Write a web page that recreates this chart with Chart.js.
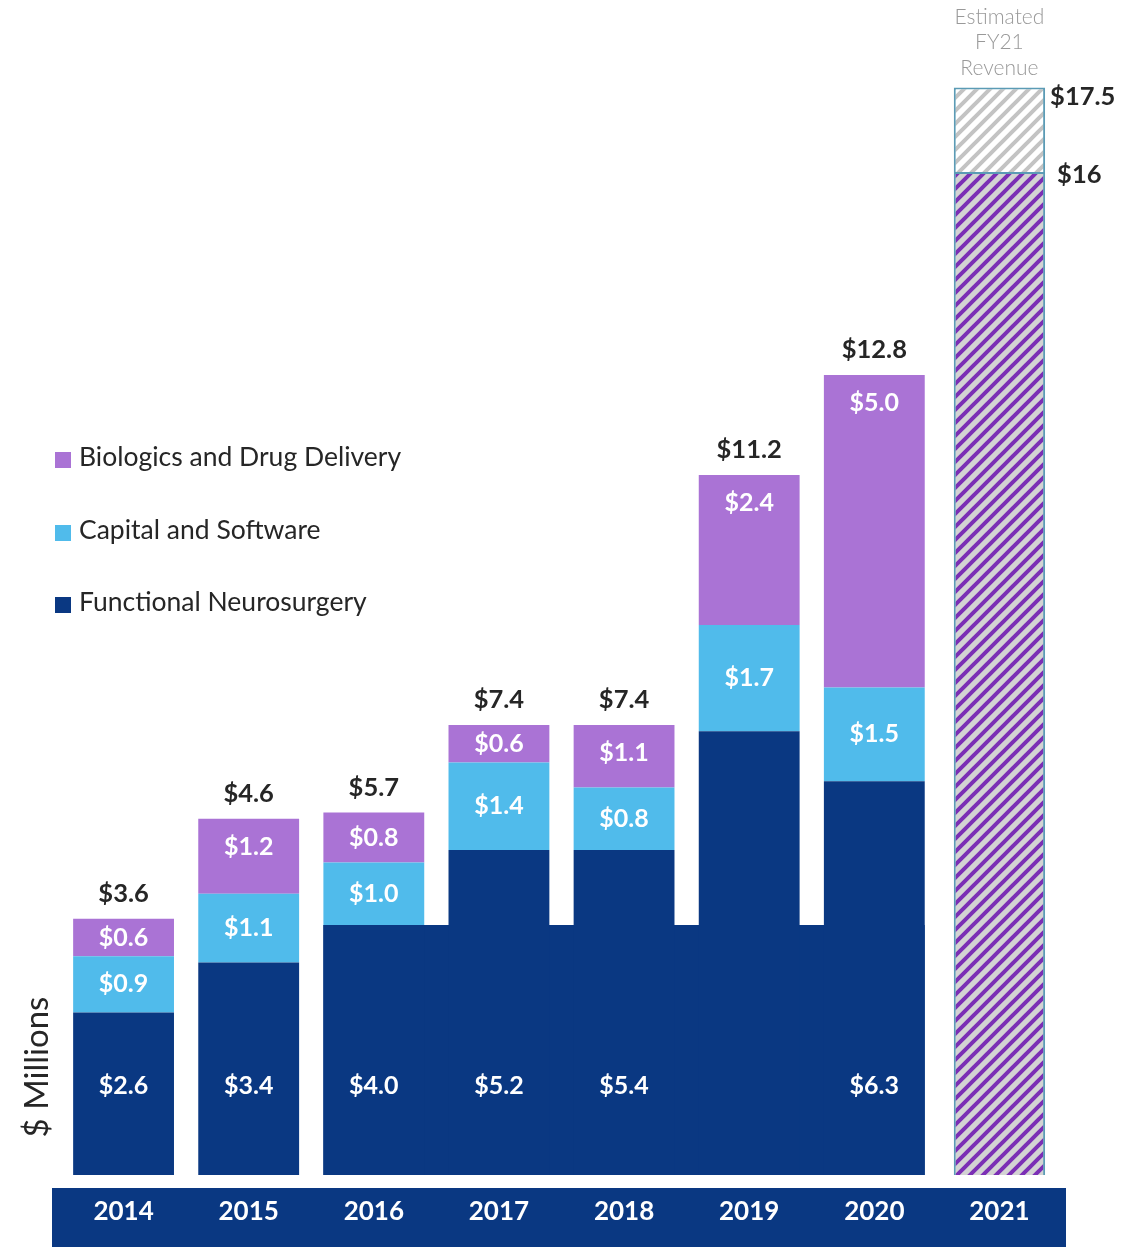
<!DOCTYPE html>
<html>
<head>
<meta charset="utf-8">
<script src="https://cdn.jsdelivr.net/npm/chart.js@4/dist/chart.umd.min.js"></script>
<style>
  html, body { margin: 0; padding: 0; background: #ffffff; }
  canvas { display: block; }
</style>
</head>
<body>
<canvas id="revenueChart" width="1129" height="1247"></canvas>
<script>
// Chart data (bar heights as drawn; printed labels kept separately)
const years = ["2014", "2015", "2016", "2017", "2018", "2019", "2020", "2021"];
const neurosurgery = [2.6, 3.4, 4.0, 5.2, 5.2, 7.1, 6.3, null];
const capitalSoftware = [0.9, 1.1, 1.0, 1.4, 1.0, 1.7, 1.5, null];
const biologics = [0.6, 1.2, 0.8, 0.6, 1.0, 2.4, 5.0, null];
const neuroLabels = ["$2.6", "$3.4", "$4.0", "$5.2", "$5.4", "", "$6.3", ""];
const capitalLabels = ["$0.9", "$1.1", "$1.0", "$1.4", "$0.8", "$1.7", "$1.5", ""];
const biologicsLabels = ["$0.6", "$1.2", "$0.8", "$0.6", "$1.1", "$2.4", "$5.0", ""];
const totalLabels = ["$3.6", "$4.6", "$5.7", "$7.4", "$7.4", "$11.2", "$12.8", ""];
const estimateBase = [null, null, null, null, null, null, null, 16.05];
const estimateUpside = [null, null, null, null, null, null, null, 1.35];
const estimateBaseLabel = "$16";
const estimateTopLabel = "$17.5";
const estimateNote = ["Estimated", "FY21", "Revenue"];
const baseBlock = 4.0; // navy block joining the 2016-2020 bars

const NAVY = "#0a3882";
const CYAN = "#50bbeb";
const PURPLE = "#aa73d5";
const DARK = "#262626";
const FONT = "Lato, 'Open Sans', sans-serif";

function hatch(bg, stripe) {
    const c = document.createElement("canvas");
    c.width = 13; c.height = 13;
    const g = c.getContext("2d");
    g.fillStyle = bg;
    g.fillRect(0, 0, 13, 13);
    g.strokeStyle = stripe;
    g.lineWidth = 4;
    g.beginPath();
    for (let k = -13; k <= 26; k += 13) {
        g.moveTo(k - 2, 15);
        g.lineTo(k + 15, -2);
    }
    g.stroke();
    return g.createPattern(c, "repeat");
}

const labelsPlugin = {
    id: "labelsPlugin",
    beforeDraw(chart) {
        const ctx = chart.ctx;
        const area = chart.chartArea;
        ctx.save();
        ctx.fillStyle = NAVY;
        ctx.fillRect(area.left - 9, area.bottom + 13, area.right - area.left + 13, chart.height - area.bottom - 13);
        ctx.restore();
    },
    beforeDatasetsDraw(chart) {
        const ctx = chart.ctx;
        const y = chart.scales.y;
        const bars = chart.getDatasetMeta(0).data;
        const left = bars[2].x - bars[2].width / 2;
        const right = bars[6].x + bars[6].width / 2;
        const top = y.getPixelForValue(baseBlock);
        const bottom = y.getPixelForValue(0);
        ctx.save();
        ctx.fillStyle = NAVY;
        ctx.fillRect(left, top, right - left, bottom - top);
        ctx.restore();
    },
    afterDatasetsDraw(chart) {
        const ctx = chart.ctx;
        const x = chart.scales.x;
        const y = chart.scales.y;
        const area = chart.chartArea;
        const neuroMeta = chart.getDatasetMeta(0).data;
        const capMeta = chart.getDatasetMeta(1).data;
        const bioMeta = chart.getDatasetMeta(2).data;
        ctx.save();
        ctx.textAlign = "center";
        ctx.textBaseline = "middle";

        // segment values
        ctx.fillStyle = "#ffffff";
        ctx.font = "bold 25px " + FONT;
        years.forEach(function(yr, i) {
            if (neuroLabels[i]) ctx.fillText(neuroLabels[i], neuroMeta[i].x, y.getPixelForValue(1.42));
            if (capitalLabels[i]) ctx.fillText(capitalLabels[i], capMeta[i].x, (capMeta[i].y + capMeta[i].base) / 2);
            if (biologicsLabels[i]) {
                const b = bioMeta[i];
                ctx.fillText(biologicsLabels[i], b.x, Math.min((b.y + b.base) / 2, b.y + 28));
            }
        });

        // totals
        ctx.fillStyle = DARK;
        ctx.font = "bold 25.5px " + FONT;
        years.forEach(function(yr, i) {
            if (totalLabels[i]) ctx.fillText(totalLabels[i], bioMeta[i].x, bioMeta[i].y - 25);
        });

        // 2021 estimate
        const est = chart.getDatasetMeta(4).data[7];
        const estRight = est.x + est.width / 2;
        const estTop = est.y;
        ctx.textAlign = "left";
        ctx.fillText(estimateTopLabel, estRight + 5, estTop + 9);
        ctx.fillText(estimateBaseLabel, estRight + 12, est.base + 3);
        ctx.textAlign = "center";
        ctx.fillStyle = "#999999";
        ctx.font = "300 21px " + FONT;
        [-70, -45, -19].forEach(function(off, k) {
            ctx.fillText(estimateNote[k], est.x, estTop + off);
        });

        // year labels in the band
        ctx.fillStyle = "#ffffff";
        ctx.font = "bold 26px " + FONT;
        years.forEach(function(yr, i) {
            ctx.fillText(yr, x.getPixelForValue(i), area.bottom + 37);
        });

        // legend
        const legend = [
            { label: chart.data.datasets[2].label, color: PURPLE, y: 457 },
            { label: chart.data.datasets[1].label, color: CYAN, y: 530 },
            { label: chart.data.datasets[0].label, color: NAVY, y: 602 }
        ];
        ctx.textAlign = "left";
        ctx.font = "26.5px " + FONT;
        legend.forEach(function(item) {
            ctx.fillStyle = item.color;
            ctx.fillRect(55, item.y - 5, 16, 16);
            ctx.fillStyle = DARK;
            ctx.fillText(item.label, 79, item.y);
        });

        // axis title
        ctx.save();
        ctx.translate(37, area.bottom - 108);
        ctx.rotate(-Math.PI / 2);
        ctx.textAlign = "center";
        ctx.fillStyle = DARK;
        ctx.font = "33px " + FONT;
        ctx.fillText("$ Millions", 0, 0);
        ctx.restore();

        ctx.restore();
    }
};

document.addEventListener("DOMContentLoaded", function() {
    const ctx = document.getElementById("revenueChart").getContext("2d");
    new Chart(ctx, {
        type: "bar",
        data: {
            labels: years,
            datasets: [
                { label: "Functional Neurosurgery", data: neurosurgery, backgroundColor: NAVY, barPercentage: 0.806 },
                { label: "Capital and Software", data: capitalSoftware, backgroundColor: CYAN, barPercentage: 0.806 },
                { label: "Biologics and Drug Delivery", data: biologics, backgroundColor: PURPLE, barPercentage: 0.806 },
                { label: "Estimated base", data: estimateBase, backgroundColor: hatch("#d3d3d3", "#7b2fb5"),
                  borderColor: "#5b9bb5", borderWidth: 2, barPercentage: 0.73 },
                { label: "Estimated upside", data: estimateUpside, backgroundColor: hatch("#ffffff", "#c3c3c3"),
                  borderColor: "#5b9bb5", borderWidth: 2, barPercentage: 0.73 }
            ]
        },
        options: {
            responsive: false,
            animation: false,
            devicePixelRatio: 1,
            layout: { padding: { left: 61, right: 67, top: 0, bottom: 72 } },
            datasets: { bar: { categoryPercentage: 1 } },
            plugins: { legend: { display: false }, tooltip: { enabled: false } },
            scales: {
                x: { stacked: true, display: false },
                y: { stacked: true, display: false, min: 0, max: 18.8 }
            }
        },
        plugins: [labelsPlugin]
    });
});
</script>
</body>
</html>
